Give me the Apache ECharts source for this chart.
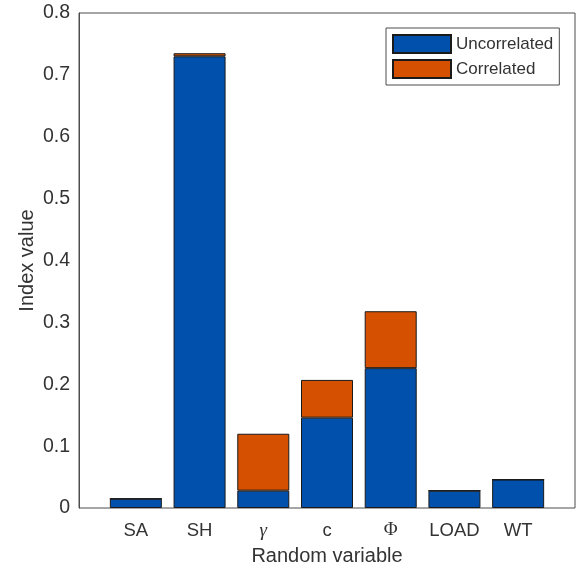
<!DOCTYPE html>
<html>
<head>
<meta charset="utf-8">
<script src="https://cdn.jsdelivr.net/npm/echarts@6/dist/echarts.min.js"></script>
<style>
  html, body { margin: 0; padding: 0; background: #fff; }
  #chart { width: 578px; height: 568px; }
</style>
</head>
<body>
<div id="chart"></div>
<script>
// Random variables on the x axis
const categories = ['SA', 'SH', 'γ', 'c', 'Φ', 'LOAD', 'WT'];
// Index values, stacked
const uncorrelated = [0.015, 0.730, 0.028, 0.146, 0.226, 0.028, 0.046];
const correlated   = [0.000, 0.005, 0.092, 0.061, 0.092, 0.000, 0.000];
const yTicks = [0, 0.1, 0.2, 0.3, 0.4, 0.5, 0.6, 0.7, 0.8];

const FONT = '"Liberation Sans", Arial, Helvetica, sans-serif';
const SERIF = '"Liberation Serif", "DejaVu Serif", serif';
const TEXT = '#333333';
const AXIS = '#4d4d4d';

// Axes box edges (px); the bars occupy a narrower inner band
const BOX = { left: 79, top: 13, right: 3, bottom: 60 };
const INNER_LEFT = 104;
const INNER_RIGHT = 28;

const chart = echarts.init(document.getElementById('chart'), null, { renderer: 'canvas' });

chart.setOption({
  animation: false,
  backgroundColor: '#ffffff',
  grid: [
    // plotting grid for the bars
    { left: INNER_LEFT, top: BOX.top, right: INNER_RIGHT, bottom: BOX.bottom,
      outerBoundsMode: 'none' },
    // outer box frame
    { left: BOX.left, top: BOX.top, right: BOX.right, bottom: BOX.bottom,
      outerBoundsMode: 'none',
      show: true, borderColor: AXIS, borderWidth: 1, backgroundColor: 'transparent', z: 0 }
  ],
  legend: {
    orient: 'vertical',
    left: 386, top: 28,
    padding: [6, 6, 6, 6],
    itemGap: 5,
    itemWidth: 58, itemHeight: 18,
    borderColor: AXIS, borderWidth: 1,
    backgroundColor: '#ffffff',
    icon: 'rect',
    textStyle: { fontFamily: FONT, fontSize: 17, color: TEXT },
    data: ['Uncorrelated', 'Correlated']
  },
  xAxis: [
    {
      gridIndex: 0,
      type: 'category',
      data: categories,
      name: 'Random variable',
      nameLocation: 'middle',
      nameGap: 38,
      nameMoveOverlap: false,
      nameTextStyle: { fontFamily: FONT, fontSize: 20, color: TEXT },
      axisLine: { show: false },
      axisTick: { show: false },
      splitLine: { show: false },
      axisLabel: {
        interval: 0,
        margin: 13,
        fontFamily: FONT, fontSize: 18.5, color: TEXT,
        formatter: v => {
          if (v === 'γ') return '{g|γ}';
          if (v === 'Φ') return '{p|Φ}';
          return v;
        },
        rich: {
          g: { fontFamily: SERIF, fontStyle: 'italic', fontSize: 19, color: TEXT },
          p: { fontFamily: SERIF, fontSize: 19, color: TEXT }
        }
      }
    },
    { gridIndex: 1, type: 'value', show: false, min: 0, max: 1 }
  ],
  yAxis: [
    {
      gridIndex: 0,
      type: 'value',
      offset: INNER_LEFT - BOX.left,
      min: yTicks[0], max: yTicks[yTicks.length - 1], interval: 0.1,
      name: 'Index value',
      nameLocation: 'middle',
      nameGap: 42,
      nameMoveOverlap: false,
      nameRotate: 90,
      nameTextStyle: { fontFamily: FONT, fontSize: 20, color: TEXT },
      axisLine: { show: true, lineStyle: { color: AXIS, width: 1 } },
      axisTick: { show: false },
      splitLine: { show: false },
      axisLabel: {
        margin: 9,
        fontFamily: FONT, fontSize: 19.5, color: TEXT,
        formatter: v => (Math.abs(v) < 1e-9 ? '0' : v.toFixed(1))
      }
    },
    { gridIndex: 1, type: 'value', show: false, min: 0, max: 1 }
  ],
  series: [
    {
      name: 'Uncorrelated',
      type: 'bar',
      stack: 'total',
      xAxisIndex: 0, yAxisIndex: 0,
      barWidth: 52,
      data: uncorrelated,
      itemStyle: { color: '#0050AC', borderColor: '#1a1a1a', borderWidth: 1 }
    },
    {
      name: 'Correlated',
      type: 'bar',
      stack: 'total',
      xAxisIndex: 0, yAxisIndex: 0,
      barWidth: 52,
      data: correlated,
      itemStyle: { color: '#D55000', borderColor: '#1a1a1a', borderWidth: 1 }
    }
  ]
});
</script>
</body>
</html>
